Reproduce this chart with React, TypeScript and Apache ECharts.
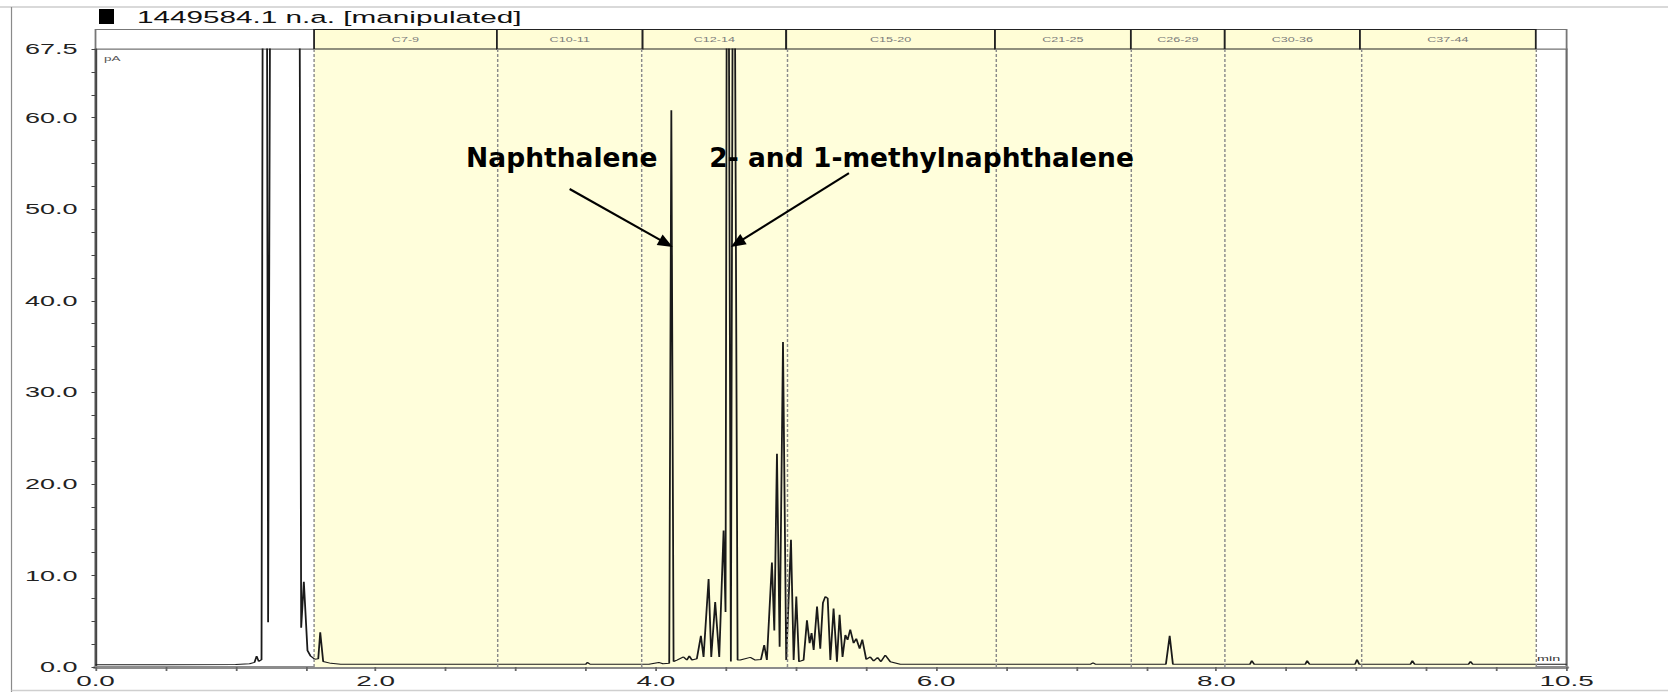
import React, { useEffect, useRef } from 'react';
import * as echarts from 'echarts';

// page size and the horizontal stretch seen in the reference screenshot
const W = 1668;
const H = 692;
const SX = 1.8;
const CW = W / SX;

// ---------- data ----------
const title = '1449584.1 n.a. [manipulated]';

const retentionTimes = [
  0.0, 0.5, 1.0, 1.1, 1.135, 1.15, 1.165, 1.185, 1.202, 1.215, 1.232, 1.262, 1.3, 1.4, 1.445,
  1.468, 1.487, 1.513, 1.535, 1.565, 1.59, 1.604, 1.625, 1.68, 1.75, 2.5, 3.0, 3.5, 3.51, 3.53,
  3.95, 4.02, 4.05, 4.095, 4.11, 4.126, 4.15, 4.197, 4.221, 4.238, 4.257, 4.292, 4.321, 4.34,
  4.376, 4.395, 4.423, 4.452, 4.483, 4.497, 4.511, 4.535, 4.554, 4.583, 4.602, 4.674, 4.709,
  4.75, 4.773, 4.792, 4.828, 4.845, 4.864, 4.883, 4.907, 4.93, 4.964, 4.983, 5.002, 5.021,
  5.054, 5.078, 5.097, 5.111, 5.126, 5.15, 5.173, 5.192, 5.209, 5.226, 5.245, 5.268, 5.292,
  5.311, 5.332, 5.352, 5.368, 5.387, 5.411, 5.43, 5.454, 5.473, 5.501, 5.53, 5.554, 5.582,
  5.606, 5.637, 5.673, 5.744, 6.5, 7.1, 7.12, 7.14, 7.64, 7.667, 7.69, 8.24, 8.253, 8.27,
  8.635, 8.648, 8.665, 8.99, 9.004, 9.02, 9.385, 9.399, 9.415, 9.8, 9.814, 9.83, 10.5,
];

const signal = [
  0.25, 0.25, 0.28, 0.35, 0.5, 1.2, 0.6, 0.8, 150, 150, 4.9, 150, 200, 200, 150,
  4.3, 9.3, 1.8, 1.2, 0.85, 0.9, 3.8, 0.6, 0.4, 0.3, 0.3, 0.3, 0.3, 0.5, 0.3,
  0.3, 0.5, 0.35, 0.4, 60.8, 0.6, 0.76, 1.1, 0.76, 1.2, 0.76, 0.9, 3.4, 1.1,
  9.6, 1.1, 7.1, 1.1, 14.9, 6.0, 120, 0.6, 110, 0.76, 0.76, 1.05, 0.76,
  0.83, 2.4, 0.76, 11.4, 4.0, 23.3, 2.2, 35.5, 0.76, 13.9, 0.76, 7.7, 0.58,
  0.76, 5.1, 2.6, 3.7, 1.85, 6.6, 2.0, 7.0, 7.7, 7.5, 0.76, 6.4, 0.58,
  5.7, 1.1, 3.5, 2.95, 4.1, 2.6, 3.1, 2.0, 3.0, 0.83, 1.1, 0.65, 1.05,
  0.58, 1.3, 0.58, 0.3, 0.3, 0.3, 0.45, 0.3, 0.3, 3.4, 0.3, 0.3, 0.7, 0.3,
  0.3, 0.7, 0.3, 0.3, 0.8, 0.3, 0.3, 0.7, 0.3, 0.3, 0.6, 0.3, 0.3,
];

const sectionBounds = [1.56, 2.865, 3.905, 4.93, 6.42, 7.39, 8.06, 9.025, 10.28];
const sectionLabels = ['C7-9', 'C10-11', 'C12-14', 'C15-20', 'C21-25', 'C26-29', 'C30-36', 'C37-44'];

const xTickLabels = [0, 2, 4, 6, 8, 10.5];
const yTickLabels = [0, 10, 20, 30, 40, 50, 60, 67.5];

const annotationTexts = ['Naphthalene', '2- and 1-methylnaphthalene'];
const annotationAnchors: number[][] = [
  [2.645, 55.7],
  [4.381, 55.7],
];
const arrowTails: number[][] = [
  [3.381, 52.2],
  [5.373, 53.95],
];
const arrowTips: number[][] = [
  [4.116, 45.87],
  [4.53, 45.87],
];

export default function App() {
  const ref = useRef<HTMLDivElement>(null);

  useEffect(() => {
    if (!ref.current) return;
    const chart = echarts.init(ref.current, null, { renderer: 'svg' });

    const gridLeft = 95.5 / SX;
    const gridRight = CW - 1566 / SX;
    const axisFont = 'Liberation Sans, Arial, sans-serif';

    const traceData = retentionTimes.map((t, i) => [t, signal[i]]);

    chart.setOption({
      animation: false,
      backgroundColor: '#ffffff',
      grid: [
        {
          left: gridLeft,
          right: gridRight,
          top: 49,
          bottom: 25,
          show: true,
          backgroundColor: '#ffffff',
          borderColor: '#6a6a6a',
          borderWidth: 1.2,
        },
        {
          left: gridLeft,
          right: gridRight,
          top: 29.5,
          height: 19.5,
          show: true,
          backgroundColor: '#ffffff',
          borderColor: '#777777',
          borderWidth: 1,
        },
      ],
      xAxis: [
        {
          type: 'value',
          gridIndex: 0,
          min: 0,
          max: 10.5,
          interval: 0.5,
          axisLine: { show: true, onZero: false, lineStyle: { color: '#8c8c8c', width: 3 } },
          axisTick: { show: true, length: 4, lineStyle: { color: '#666', width: 1 } },
          axisLabel: {
            show: true,
            fontSize: 15.5,
            color: '#222',
            fontFamily: axisFont,
            margin: 6,
            formatter: (v: number) => (xTickLabels.includes(v) ? v.toFixed(1) : ''),
          },
          splitLine: { show: false },
        },
        {
          type: 'value',
          gridIndex: 1,
          min: 0,
          max: 10.5,
          show: false,
        },
      ],
      yAxis: [
        {
          type: 'value',
          gridIndex: 0,
          min: 0,
          max: 67.5,
          interval: 2.5,
          offset: 6 / SX,
          axisLine: { show: true, lineStyle: { color: '#444', width: 1 } },
          axisTick: { show: true, length: 4 / SX, lineStyle: { color: '#444', width: 1 } },
          axisLabel: {
            show: true,
            fontSize: 15,
            color: '#222',
            fontFamily: axisFont,
            margin: 12 / SX,
            formatter: (v: number) => (yTickLabels.includes(v) ? v.toFixed(1) : ''),
          },
          splitLine: { show: false },
        },
        {
          type: 'value',
          gridIndex: 1,
          min: 0,
          max: 1,
          show: false,
        },
      ],
      series: [
        {
          type: 'line',
          xAxisIndex: 0,
          yAxisIndex: 0,
          data: traceData,
          showSymbol: false,
          symbol: 'none',
          clip: true,
          silent: true,
          z: 3,
          lineStyle: { color: '#1a1a1a', width: 1 },
          markArea: {
            silent: true,
            itemStyle: { color: '#FFFEDB' },
            data: sectionLabels.map((_, i) => [
              { xAxis: sectionBounds[i] },
              { xAxis: sectionBounds[i + 1] },
            ]),
          },
          markLine: {
            silent: true,
            symbol: ['none', 'none'],
            label: { show: false },
            lineStyle: { color: '#8a8a8a', type: [3, 2], width: 0.8 },
            data: sectionBounds.map((b) => ({ xAxis: b })),
          },
        },
        {
          type: 'line',
          xAxisIndex: 1,
          yAxisIndex: 1,
          data: [[0, -5]],
          showSymbol: false,
          symbol: 'none',
          silent: true,
          lineStyle: { opacity: 0 },
          markArea: {
            silent: true,
            itemStyle: { color: '#FFFDD6', borderColor: '#222', borderWidth: 1 },
            label: {
              show: true,
              position: 'inside',
              fontSize: 7,
              color: '#7a7a7a',
              fontFamily: axisFont,
            },
            data: sectionLabels.map((name, i) => [
              { name, xAxis: sectionBounds[i] },
              { xAxis: sectionBounds[i + 1] },
            ]),
          },
        },
      ],
    });

    // annotation positions come from the chart's own scales
    const toFull = (p: number[]) => {
      const q = chart.convertToPixel({ seriesIndex: 0 }, p) as number[];
      return [Number(q[0]) * SX, Number(q[1])];
    };

    const unstretched: any[] = [
      { type: 'line', shape: { x1: 0, y1: 7, x2: W, y2: 7 }, style: { stroke: '#d9d9d9', lineWidth: 2 } },
      { type: 'line', shape: { x1: 11.5, y1: 7, x2: 11.5, y2: H }, style: { stroke: '#8a8a8a', lineWidth: 1.2 } },
      { type: 'line', shape: { x1: 11.5, y1: 690.5, x2: W, y2: 690.5 }, style: { stroke: '#cfcfcf', lineWidth: 1.5 } },
    ];

    annotationTexts.forEach((text, i) => {
      const [x, y] = toFull(annotationAnchors[i]);
      unstretched.push({
        type: 'text',
        x,
        y,
        z: 100,
        style: {
          text,
          fontSize: 26.5,
          fontWeight: 'bold',
          fontFamily: 'DejaVu Sans, sans-serif',
          fill: '#000',
          textAlign: 'left',
          textVerticalAlign: 'middle',
        },
      });
    });

    arrowTails.forEach((tail, i) => {
      const [fx, fy] = toFull(tail);
      const [tx, ty] = toFull(arrowTips[i]);
      const dx = tx - fx;
      const dy = ty - fy;
      const len = Math.sqrt(dx * dx + dy * dy) || 1;
      const ux = dx / len;
      const uy = dy / len;
      const headLen = 15;
      const headHalf = 6;
      const bx = tx - ux * headLen;
      const by = ty - uy * headLen;
      unstretched.push({
        type: 'line',
        z: 100,
        shape: { x1: fx, y1: fy, x2: bx + ux * 2, y2: by + uy * 2 },
        style: { stroke: '#000', lineWidth: 2.2 },
      });
      unstretched.push({
        type: 'polygon',
        z: 100,
        shape: {
          points: [
            [tx, ty],
            [bx - uy * headHalf, by + ux * headHalf],
            [bx + uy * headHalf, by - ux * headHalf],
          ],
        },
        style: { fill: '#000' },
      });
    });

    chart.setOption({
      graphic: [
        {
          type: 'group',
          x: 0,
          y: 0,
          scaleX: 1 / SX,
          z: 100,
          children: unstretched,
        },
        {
          type: 'rect',
          shape: { x: 99 / SX, y: 9, width: 15 / SX, height: 15 },
          style: { fill: '#000' },
        },
        {
          type: 'text',
          x: 137 / SX,
          y: 17,
          style: {
            text: title,
            fontSize: 16.5,
            fontFamily: axisFont,
            fill: '#111',
            textVerticalAlign: 'middle',
          },
        },
        {
          type: 'text',
          x: 104 / SX,
          y: 58,
          style: {
            text: 'pA',
            fontSize: 7.5,
            fontFamily: axisFont,
            fill: '#555',
            textVerticalAlign: 'middle',
          },
        },
        {
          type: 'text',
          x: 1537 / SX,
          y: 658,
          style: {
            text: 'min',
            fontSize: 8,
            fontFamily: axisFont,
            fill: '#333',
            textVerticalAlign: 'middle',
          },
        },
      ],
    });

    return () => {
      chart.dispose();
    };
  }, []);

  return (
    <div
      style={{
        position: 'absolute',
        left: 0,
        top: 0,
        width: W,
        height: H,
        overflow: 'hidden',
        background: '#ffffff',
      }}
    >
      <div
        ref={ref}
        style={{
          width: CW,
          height: H,
          transform: `scaleX(${SX})`,
          transformOrigin: '0 0',
        }}
      />
    </div>
  );
}
